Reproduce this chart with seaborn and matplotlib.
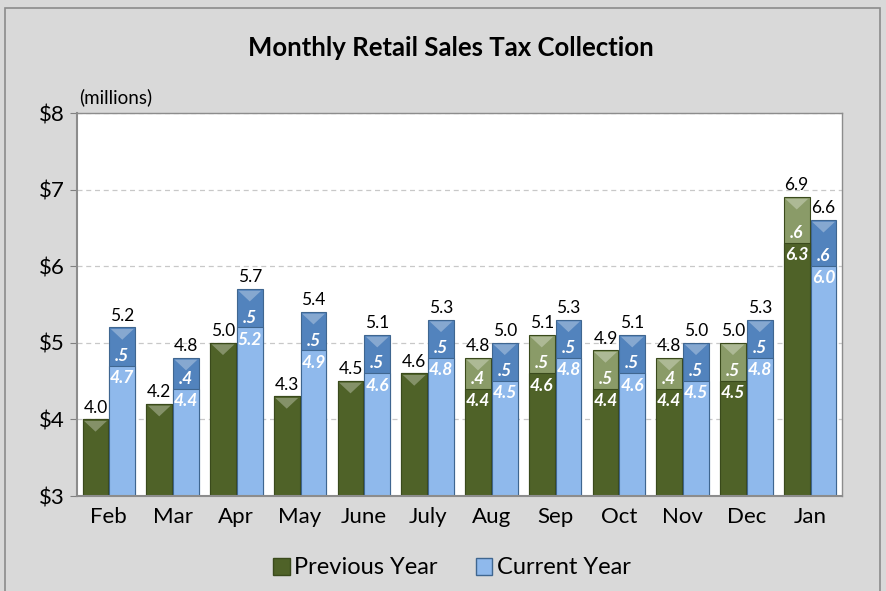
import numpy as np
import pandas as pd
import matplotlib
matplotlib.use("Agg")
import matplotlib.pyplot as plt
from matplotlib.patches import Patch, Rectangle, Polygon
import seaborn as sns

months = ["Feb", "Mar", "Apr", "May", "June", "July", "Aug", "Sep", "Oct", "Nov", "Dec", "Jan"]
prev_base = [4.0, 4.2, 5.0, 4.3, 4.5, 4.6, 4.4, 4.6, 4.4, 4.4, 4.5, 6.3]
prev_total = [4.0, 4.2, 5.0, 4.3, 4.5, 4.6, 4.8, 5.1, 4.9, 4.8, 5.0, 6.9]
curr_base = [4.7, 4.4, 5.2, 4.9, 4.6, 4.8, 4.5, 4.8, 4.6, 4.5, 4.8, 6.0]
curr_total = [5.2, 4.8, 5.7, 5.4, 5.1, 5.3, 5.0, 5.3, 5.1, 5.0, 5.3, 6.6]
series = ["Previous Year", "Current Year"]

BASE_COLORS = {"Previous Year": "#4f6228", "Current Year": "#8fb9ec"}
TOP_COLORS = {"Previous Year": "#8a9b68", "Current Year": "#5283bd"}
EDGE_COLORS = ["#3a4a1c", "#3f6690"]

df = pd.DataFrame({
    "month": months * 2,
    "series": [series[0]] * 12 + [series[1]] * 12,
    "base": prev_base + curr_base,
    "total": prev_total + curr_total,
})

sns.set_style("white")
plt.rcParams["font.family"] = ["Lato", "DejaVu Sans"]
plt.rcParams["text.color"] = "black"
plt.rcParams["xtick.color"] = "black"
plt.rcParams["ytick.color"] = "black"

fig = plt.figure(figsize=(8.87, 5.91), dpi=100, facecolor="#d9d9d9")
ax = fig.add_axes([77 / 887, 1 - 496 / 591, 765 / 887, 383 / 591])
ax.set_facecolor("white")

# totals first (top segment colour), bases drawn over them
sns.barplot(data=df, x="month", y="total", hue="series", hue_order=series,
            palette=TOP_COLORS, saturation=1, width=0.84, gap=0.03, ax=ax,
            legend=False, linewidth=0.8, edgecolor="#555555")
sns.barplot(data=df, x="month", y="base", hue="series", hue_order=series,
            palette=BASE_COLORS, saturation=1, width=0.84, gap=0.03, ax=ax,
            legend=False, linewidth=0.8, edgecolor="#555555")

for k in range(2):
    for j in range(2):
        for bar in ax.containers[2 * j + k]:
            bar.set_edgecolor(EDGE_COLORS[k])

# bevel highlight at the top of each bar
for k in range(2):
    for bar in ax.containers[k]:
        x0, w, top = bar.get_x(), bar.get_width(), bar.get_height()
        lw = 0.06 * w
        v = Polygon([(x0 + lw, top - 0.02), (x0 + w - lw, top - 0.02),
                     (x0 + w / 2, top - 0.16)], closed=True,
                    facecolor="white", alpha=0.3, edgecolor="none", zorder=3)
        ax.add_patch(v)

# value labels
for k, (bases, totals) in enumerate([(prev_base, prev_total), (curr_base, curr_total)]):
    for bar, b, t in zip(ax.containers[k], bases, totals):
        cx = bar.get_x() + bar.get_width() / 2
        ax.text(cx, t + 0.05, f"{t:.1f}", ha="center", va="bottom",
                fontsize=12.5, color="black")
        d = round(t - b, 1)
        if d > 0:
            ax.text(cx, b + 0.13, f"{d:.1f}".lstrip("0"), ha="center",
                    va="center", fontsize=12.5, color="white",
                    fontweight="bold", fontstyle="italic", zorder=4)
            ax.text(cx, b - 0.16, f"{b:.1f}", ha="center", va="center",
                    fontsize=12.5, color="white", fontweight="bold",
                    fontstyle="italic", zorder=4)

ax.set_ylim(3, 8)
ax.set_yticks([3, 4, 5, 6, 7, 8])
ax.set_yticklabels([f"${v}" for v in range(3, 9)])
ax.yaxis.grid(True, linestyle=(0, (4, 3)), color="#c8c8c8", linewidth=0.9)
ax.set_axisbelow(True)
ax.set_xlabel("")
ax.set_ylabel("")
ax.tick_params(axis="y", which="both", left=True, length=5, color="#808080",
               labelsize=16, pad=4)
ax.tick_params(axis="x", length=0, labelsize=16, pad=8)
for s in ax.spines.values():
    s.set_color("#8c8c8c")
    s.set_linewidth(1.0)
ax.spines["left"].set_linewidth(1.5)
ax.spines["bottom"].set_linewidth(1.5)

fig.text(451 / 887, 1 - 48 / 591, "Monthly Retail Sales Tax Collection",
         ha="center", va="center", fontsize=18.5, fontweight="bold")
fig.text(79 / 887, 1 - 97 / 591, "(millions)", ha="left", va="center",
         fontsize=13.5)

handles = [Patch(facecolor=BASE_COLORS[s], edgecolor=EDGE_COLORS[i], label=s)
           for i, s in enumerate(series)]
fig.legend(handles=handles, loc="center", bbox_to_anchor=(452 / 887, 1 - 568 / 591),
           ncol=2, frameon=False, fontsize=17, handlelength=0.7,
           handleheight=0.7, handletextpad=0.2, columnspacing=1.6)

fig.patches.append(Rectangle((5 / 887, -0.02), 875 / 887, 1 - 8 / 591 + 0.02,
                             transform=fig.transFigure, fill=False,
                             edgecolor="#8c8c8c", linewidth=1.2))

fig.savefig("out.png", dpi=100, facecolor=fig.get_facecolor())
